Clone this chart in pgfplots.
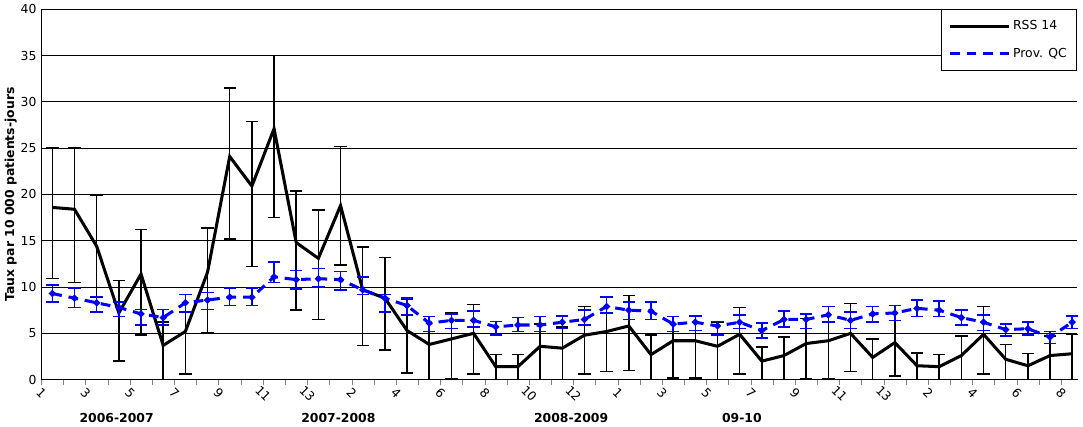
\documentclass[border=0pt]{standalone}
\usepackage{pgfplots}
\usepackage{pgfplotstable}
\pgfplotsset{compat=1.18}
\usepackage{fontspec}
\setmainfont{DejaVu Sans}
\pgfplotstableread{
x y hi lo
1 18.6 25.0 10.9
2 18.4 25.0 10.5
3 14.4 19.9 8.9
4 7.2 10.7 2.0
5 11.4 16.2 4.8
6 3.7 6.2 0
7 5.2 9.2 0.6
8 11.6 16.4 5.1
9 24.1 31.5 15.2
10 20.9 27.9 12.2
11 27.1 35.0 17.5
12 14.8 20.4 7.5
13 13.1 18.3 6.5
14 18.8 25.2 12.4
15 9.7 14.3 3.7
16 8.8 13.2 3.2
17 5.3 8.7 0.7
18 3.8 6.8 0
19 4.4 7.2 0.1
20 5.0 8.1 0.6
21 1.4 2.7 0
22 1.4 2.7 0
23 3.6 6.0 0
24 3.4 5.7 0
25 4.8 7.9 0.6
26 5.2 8.9 0.9
27 5.8 9.1 1.0
28 2.7 4.8 0
29 4.2 6.8 0.2
30 4.2 6.8 0.2
31 3.6 6.2 0
32 4.9 7.8 0.6
33 2.0 3.5 0
34 2.6 4.6 0
35 3.9 6.6 0.1
36 4.2 7.9 0.1
37 5.0 8.2 0.9
38 2.4 4.4 0
39 4.0 6.4 0.4
40 1.5 2.9 0
41 1.4 2.7 0
42 2.6 4.7 0
43 4.9 7.9 0.6
44 2.2 3.8 0
45 1.5 2.8 0
46 2.6 4.7 0
47 2.8 4.9 0
}\rss
\pgfplotstableread{
x y hi lo
1 9.3 10.2 8.4
2 8.8 9.9 7.8
3 8.3 9.0 7.3
4 7.8 8.4 6.8
5 7.1 7.6 5.9
6 6.7 7.6 5.9
7 8.3 9.2 7.3
8 8.6 9.4 7.6
9 8.9 9.9 8.0
10 8.9 9.9 8.0
11 11.1 12.7 10.5
12 10.8 11.8 9.8
13 10.9 12.0 10.0
14 10.8 11.7 9.7
15 9.7 11.1 9.2
16 8.8 9.2 7.3
17 8.0 8.8 7.0
18 6.1 6.8 5.2
19 6.4 7.1 5.5
20 6.4 7.4 5.7
21 5.7 6.3 4.8
22 5.9 6.7 5.2
23 5.9 6.8 5.2
24 6.2 6.9 5.5
25 6.5 7.5 5.9
26 7.9 8.9 7.2
27 7.5 8.4 6.5
28 7.4 8.4 6.5
29 6.0 6.8 5.2
30 6.2 6.9 5.3
31 5.8 6.3 4.8
32 6.2 7.0 5.5
33 5.3 6.1 4.5
34 6.5 7.4 5.7
35 6.5 7.1 5.5
36 7.0 7.9 6.2
37 6.4 7.3 5.5
38 7.1 7.9 6.2
39 7.2 8.0 6.4
40 7.7 8.6 6.8
41 7.5 8.5 6.8
42 6.7 7.5 5.9
43 6.2 7.0 5.3
44 5.4 6.0 4.7
45 5.5 6.2 4.8
46 4.6 5.2 3.9
47 6.2 6.9 5.5
}\qc
\begin{document}
\begin{tikzpicture}[x=1pt,y=1pt]
\begin{axis}[
  scale only axis, width=752pt, height=269pt,
  xmin=0.5, xmax=47.2, ymin=0, ymax=40,
  axis x line*=bottom, axis y line*=left,
  ytick={0,5,...,40}, ymajorgrids, grid style={black, line width=0.6pt},
  xtick={1,3,...,47},
  xticklabels={1,3,5,7,9,11,13,2,4,6,8,10,12,1,3,5,7,9,11,13,2,4,6,8},
  minor xtick={0.5,1.5,...,47.5},
  major tick length=0pt, minor tick length=4pt, tick align=outside,
  xticklabel style={font=\small, xshift=-8pt, yshift=-10pt, rotate=-45, anchor=center},
  yticklabel style={font=\small},
  /pgf/number format/assume math mode=true,
  ylabel={\textbf{Taux par 10 000 patients-jours}}, ylabel style={font=\small, yshift=-4pt},
  legend style={at={(1,1)}, anchor=north east, font=\small, draw=black, row sep=8pt, inner xsep=5pt, inner ysep=6pt},
  legend image post style={mark=none},
  legend image code/.code={\draw[#1] (0cm,0cm) -- (1.5cm,0cm);},
  legend cell align=left,
  clip=false,
]
\addplot[black, line width=2.2pt, error bars/.cd, y dir=both, y explicit, error bar style={line width=1.1pt, black}, error mark options={rotate=90, mark size=4.5pt, line width=1.1pt, black}]
  table[x=x, y=y, y error plus expr=\thisrow{hi}-\thisrow{y}, y error minus expr=\thisrow{y}-\thisrow{lo}]{\rss};
\addlegendentry{RSS 14}
\addplot[blue, line width=2.2pt, dash pattern=on 7pt off 5pt, mark=*, mark size=1.2pt, mark options={solid}, error bars/.cd, y dir=both, y explicit, error bar style={line width=1.1pt, blue, solid}, error mark options={rotate=90, mark size=4.5pt, line width=1.1pt, blue, solid}]
  table[x=x, y=y, y error plus expr=\thisrow{hi}-\thisrow{y}, y error minus expr=\thisrow{y}-\thisrow{lo}]{\qc};
\addlegendentry{Prov. QC}
\node[font=\small\bfseries] at (axis cs:3.9,-4.1) {2006-2007};
\node[font=\small\bfseries] at (axis cs:13.9,-4.1) {2007-2008};
\node[font=\small\bfseries] at (axis cs:24.4,-4.1) {2008-2009};
\node[font=\small\bfseries] at (axis cs:32.1,-4.1) {09-10};
\end{axis}
\end{tikzpicture}
\end{document}
